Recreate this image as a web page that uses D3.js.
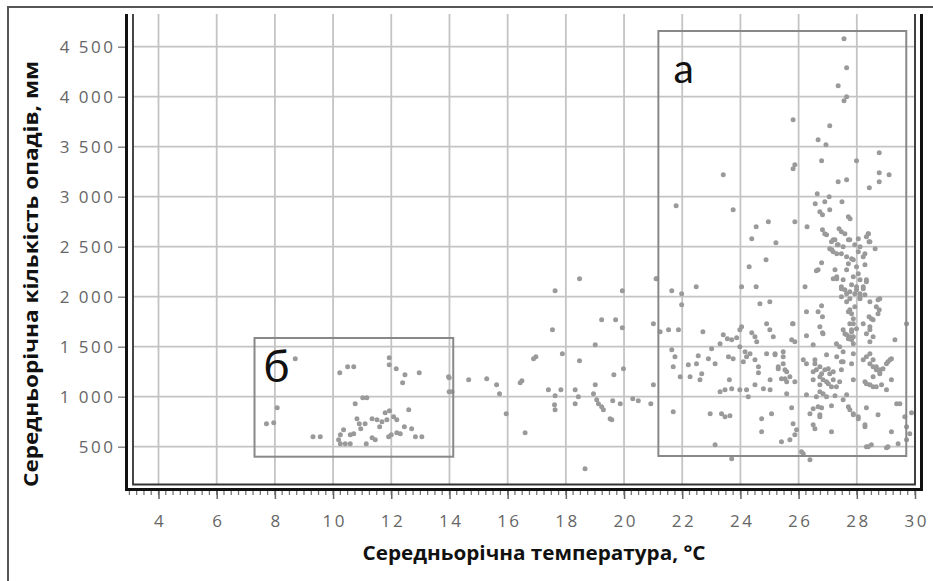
<!DOCTYPE html>
<html>
<head>
<meta charset="utf-8">
<script src="https://cdn.jsdelivr.net/npm/d3@7"></script>
<style>
  body { margin: 0; background: #fff; }
  svg { display: block; }
  .tick text { font-family: "Open Sans", sans-serif; font-size: 17px; fill: #666; letter-spacing: 2.5px; }
  .title { font-family: "Open Sans", sans-serif; font-weight: bold; font-size: 20px; fill: #111; }
  .lbl { font-family: Lato, "Open Sans", sans-serif; fill: #111; }
</style>
</head>
<body>
<svg id="chart" width="933" height="581"></svg>
<script>
var xTicks = [4, 6, 8, 10, 12, 14, 16, 18, 20, 22, 24, 26, 28, 30];
var yTicks = [500, 1000, 1500, 2000, 2500, 3000, 3500, 4000, 4500];

var xTitle = "Середньорічна температура, °C";
var yTitle = "Середньорічна кількість опадів, мм";

// [temperature, precipitation]
var clusterB = [
  [8.70,1380],[10.23,1240],[10.50,1300],[10.71,1300],[11.93,1390],[11.93,1320],[12.17,1280],[12.47,1220],
  [12.39,1140],[12.96,1240],[13.99,1190],[8.08,890],[7.71,730],[7.96,740],[9.31,600],[9.56,600],
  [10.76,930],[11.02,990],[11.16,990],[10.82,780],[10.90,730],[11.10,730],[11.34,780],[11.51,770],
  [11.68,750],[11.85,770],[12.08,800],[12.19,770],[11.79,840],[11.94,860],[12.60,870],[12.45,700],
  [12.19,640],[12.31,630],[11.91,600],[10.36,670],[10.71,630],[10.59,620],[10.25,620],[10.19,570],
  [10.25,530],[10.42,530],[10.59,530],[11.14,530],[11.34,590],[11.45,570],[12.83,600],[13.05,600],
  [13.99,1050],[12.00,620],[11.60,700],[10.95,680],[12.70,680]
];

var clusterMid = [
  [14.66,1170],[15.28,1180],[15.62,1120],[15.72,1030],[16.43,1140],[16.49,1160],[15.95,830],[16.60,640],
  [16.97,1400],[16.89,1380],[17.88,1430],[18.47,1360],[19.98,1280],[19.65,1220],[18.47,2180],[17.63,2060],
  [19.94,2060],[19.23,1770],[19.71,1770],[19.94,1690],[17.54,1670],[19.01,1520],[17.40,1070],[17.83,1070],
  [17.63,1010],[17.61,920],[17.63,870],[18.32,1070],[18.32,930],[18.43,1000],[19.01,1120],[18.95,1030],
  [19.06,970],[19.12,930],[19.29,870],[19.23,900],[19.52,780],[19.58,770],[19.61,960],[19.87,930],
  [20.30,980],[20.49,960],[20.92,930],[21.01,1120],[18.66,280],[21.01,1730],[21.12,2180],[13.97,1200],
  [14.09,1050]
];

var clusterA = [
  [27.56,4580],[27.65,4290],[27.36,4110],[27.65,4000],[27.56,3960],[25.81,3770],[27.07,3710],[26.67,3570],
  [26.94,3520],[26.79,3360],[27.99,3360],[28.77,3440],[25.87,3320],[25.81,3280],[23.41,3220],[28.77,3240],
  [29.11,3220],[27.36,3150],[27.65,3170],[28.77,3150],[28.43,3090],[26.64,3030],[27.05,3000],
  [21.79,2910],[23.75,2870],[26.57,2930],[26.90,2950],[27.49,2950],[26.73,2850],[26.82,2820],[27.07,2870],
  [27.71,2800],[27.77,2780],[25.87,2750],[24.96,2750],[24.54,2700],[26.29,2700],[24.39,2580],[25.22,2540],
  [26.82,2670],[26.90,2630],[26.96,2620],[27.39,2680],[27.47,2650],[27.59,2630],[28.40,2630],[28.42,2550],
  [28.63,2480],[27.19,2570],[27.33,2520],[27.14,2470],[27.31,2430],[27.53,2500],[27.71,2570],[28.05,2580],
  [28.11,2500],[27.65,2400],[27.71,2330],[27.88,2370],[27.99,2300],[28.05,2230],[27.88,2200],[28.22,2400],
  [28.28,2320],[26.79,2340],[26.61,2260],[24.30,2300],[24.88,2370],[27.31,2200],[27.19,2180],
  [27.47,2100],[27.59,2070],[27.76,2050],[27.99,2100],[28.11,2030],[28.22,2080],[28.33,2150],
  [26.22,2100],[24.04,2100],[24.54,2100],[22.48,2100],[21.64,2060],[21.10,2180],[21.98,2030],[21.98,1920],
  [24.67,1930],[25.01,1950],[26.27,1850],[26.79,1910],[26.67,1850],[26.82,1800],
  [27.47,2000],[27.65,1950],[27.76,1870],[27.93,1900],[28.11,1980],[28.45,1950],[28.73,1970],[28.77,1870],
  [28.56,1770],[28.42,1800],[29.71,1730],[21.24,1650],[21.53,1670],[21.87,1670],[22.71,1650],[23.41,1620],
  [23.55,1580],[23.70,1570],[23.87,1590],[24.04,1700],[23.98,1670],[24.39,1640],[24.50,1600],[24.56,1550],
  [24.90,1730],[25.01,1670],[25.13,1600],[25.79,1730],[26.27,1610],[26.73,1700],[26.82,1640],[27.53,1670],
  [27.65,1620],[27.82,1570],[27.88,1730],[27.99,1680],[28.45,1670],[28.56,1600],[28.45,1550],[29.31,1570],
  [27.13,2550],[27.25,2570],[27.07,2480],[27.19,2450],[27.36,2520],[27.47,2430],[27.76,2570],[27.93,2520],
  [28.05,2450],[27.82,2380],[27.65,2270],[28.33,2600],[28.39,2630],[28.45,2550],[28.28,2430],
  [28.11,2170],[28.22,2100],[27.99,2070],[27.82,2120],[27.93,2030],[28.11,2000],[28.28,2020],[28.33,2170],
  [27.53,2170],[27.47,2080],[27.65,2030],[27.76,1980],[27.82,1830],[27.71,1850],[27.88,1780],
  [26.67,2270],[27.25,2270],[27.31,2180],[28.79,1980],[28.67,1900],[28.73,1830],[28.50,1780],[28.45,1700],
  [28.33,1630],[28.22,1730],[27.76,1730],[27.82,1670],[27.88,1600],[27.59,1630],[27.71,1580],
  [25.81,1730],[25.76,1570],[25.87,1550],
  [21.64,1470],[21.75,1400],[21.69,1300],[21.93,1200],[22.21,1320],[22.49,1330],[22.67,1230],[22.61,1170],
  [22.27,1200],[22.55,1410],[22.90,1380],[23.13,1330],[23.01,1480],[23.30,1530],[23.59,1400],[23.75,1380],
  [23.98,1500],[24.16,1450],[24.21,1400],[24.10,1350],[24.33,1430],[24.50,1370],[24.62,1300],[24.62,1240],
  [24.90,1430],[25.19,1430],[25.47,1450],[25.30,1280],[25.47,1330],[25.59,1250],[25.70,1200],[25.53,1180],
  [25.87,1150],[23.62,1170],[25.02,1170],
  [23.30,1050],[23.47,1070],[23.70,1080],[23.98,1070],[24.21,1070],[24.27,1000],[24.50,1120],[24.79,1080],
  [25.02,1070],[25.59,1030],
  [26.27,1330],[26.56,1370],[26.73,1300],[26.90,1270],[26.79,1230],[27.02,1280],[27.19,1250],[26.50,1250],
  [26.96,1420],[27.31,1400],[27.47,1350],[26.73,1120],[26.96,1150],[27.13,1100],[26.27,1020],[26.61,1000],
  [26.96,1000],[27.25,1010],[27.53,970],[27.65,1020],[27.88,1170],[27.82,1330],[27.88,1430],
  [28.45,1430],[28.56,1370],[28.67,1300],[28.79,1270],[29.02,1330],[29.14,1370],[28.56,1200],[28.33,1130],
  [28.56,1100],[28.79,1230],[29.19,1170],
  [21.69,850],[22.96,830],[23.35,830],[23.47,800],[23.64,810],[24.73,780],[25.07,830],[24.73,650],
  [25.76,890],[25.81,730],[25.93,670],[25.87,620],[25.41,550],[25.70,570],[26.50,880],[26.67,900],
  [26.79,890],[26.73,820],[27.13,910],[26.56,680],[27.13,650],[27.71,900],[27.88,830],[28.05,800],
  [28.33,890],[28.73,820],[28.28,700],[29.19,650],[29.65,800],[29.48,930],[29.71,700],[23.13,520],
  [23.70,380],[26.10,450],[26.39,370],[28.39,500],[29.02,490],[29.42,530],[29.71,570],[29.82,630],
  [29.88,840],[29.37,930],
  [26.84,1630],[27.30,1530],[27.41,1500],[27.53,1450],[27.76,1600],[27.82,1650],[27.88,1530],[26.50,1520],
  [25.19,1420],[25.47,1400],[25.30,1300],[25.53,1270],[25.41,1180],[25.59,1150],
  [26.16,1370],[26.56,1330],[26.61,1270],[26.73,1200],[26.84,1170],[27.07,1230],[27.19,1170],[27.02,1130],
  [27.30,1100],[27.41,1150],[26.50,1170],[26.73,1050],[26.84,1030],[27.47,1270],[27.53,1350],
  [28.22,1370],[28.33,1400],[28.45,1330],[28.56,1300],[28.67,1270],[28.79,1250],[28.90,1280],[29.07,1350],
  [29.19,1380],[28.28,1150],[28.45,1120],[28.67,1100],[28.85,1120],[29.02,1070],
  [27.76,870],[27.88,820],[28.05,780],[26.39,830],[26.73,800],[26.50,720],[28.28,720],[29.07,500],
  [26.16,430],[28.33,500],[28.50,520]
];

// highlight boxes: [x0, x1, y0, y1] in data units
var boxA = [21.18, 29.7, 407, 4657];
var boxB = [7.3, 14.13, 400, 1587];
var boxLabels = [
  { text: "а", x: 21.7, y: 4140, size: 41 },
  { text: "б", x: 7.6, y: 1150, size: 45 }
];

var svg = d3.select("#chart");

var x = d3.scaleLinear().domain([2.9, 30]).range([126.5, 915]);
var y = d3.scaleLinear().domain([77, 4827]).range([489, 14]);

var fmt = d3.formatLocale({ decimal: ",", thousands: " ", grouping: [3], currency: ["", ""] }).format(",");

// outer frame
svg.append("path")
  .attr("d", "M8,600V7H940")
  .attr("fill", "none").attr("stroke", "#555").attr("stroke-width", 2);

// grid
svg.append("g").selectAll("line").data(xTicks).enter().append("line")
  .attr("x1", d => x(d)).attr("x2", d => x(d))
  .attr("y1", 14).attr("y2", 485)
  .attr("stroke", "#c4c4c4").attr("stroke-width", 1.8);
svg.append("g").selectAll("line").data(yTicks).enter().append("line")
  .attr("x1", 133).attr("x2", 915)
  .attr("y1", d => y(d)).attr("y2", d => y(d))
  .attr("stroke", "#c4c4c4").attr("stroke-width", 1.8);

// y axis labels
var yAxis = svg.append("g")
  .attr("transform", "translate(125,0)")
  .call(d3.axisLeft(y).tickValues(yTicks).tickFormat(fmt).tickSize(7).tickPadding(5));
yAxis.select(".domain").remove();
yAxis.selectAll(".tick line").attr("stroke", "#888").attr("stroke-width", 1.5);
yAxis.selectAll(".tick text").attr("dx", "2.5px");

// x axis: minor + major ticks
var minor = d3.range(3, 30.01, 0.25);
svg.append("g").selectAll("line").data(minor).enter().append("line")
  .attr("x1", d => x(d)).attr("x2", d => x(d))
  .attr("y1", 489).attr("y2", 495)
  .attr("stroke", "#777").attr("stroke-width", 1.3);
var xAxis = svg.append("g")
  .attr("transform", "translate(0,489)")
  .call(d3.axisBottom(x).tickValues(xTicks).tickSize(10).tickPadding(16));
xAxis.select(".domain").remove();
xAxis.selectAll(".tick line").attr("stroke", "#666").attr("stroke-width", 1.5);
xAxis.selectAll(".tick text").attr("dx", "1.2px");

// double frame lines of the plot
svg.append("path")
  .attr("d", "M126.5,14V489.5H921.5V14")
  .attr("fill", "none").attr("stroke", "#111").attr("stroke-width", 3);
svg.append("path")
  .attr("d", "M133,14V484.5H915V14")
  .attr("fill", "none").attr("stroke", "#333").attr("stroke-width", 1.8);

// points
var allPts = clusterB.concat(clusterMid, clusterA);
svg.append("g").selectAll("circle").data(allPts).enter().append("circle")
  .attr("cx", d => x(d[0])).attr("cy", d => y(d[1]))
  .attr("r", 2.5).attr("fill", "#9a9a9a");

// boxes
[boxA, boxB].forEach(function(b) {
  svg.append("rect")
    .attr("x", x(b[0])).attr("y", y(b[3]))
    .attr("width", x(b[1]) - x(b[0])).attr("height", y(b[2]) - y(b[3]))
    .attr("fill", "none").attr("stroke", "#888").attr("stroke-width", 2);
});
svg.append("g").selectAll("text").data(boxLabels).enter().append("text")
  .attr("class", "lbl")
  .attr("x", d => x(d.x)).attr("y", d => y(d.y))
  .attr("font-size", d => d.size)
  .text(d => d.text);

// titles
svg.append("text").attr("class", "title")
  .attr("x", 534).attr("y", 560).attr("text-anchor", "middle")
  .attr("textLength", 343).attr("lengthAdjust", "spacingAndGlyphs")
  .text(xTitle);
svg.append("text").attr("class", "title")
  .attr("transform", "translate(38,274) rotate(-90)")
  .attr("text-anchor", "middle")
  .attr("textLength", 426).attr("lengthAdjust", "spacingAndGlyphs")
  .text(yTitle);
</script>
</body>
</html>
